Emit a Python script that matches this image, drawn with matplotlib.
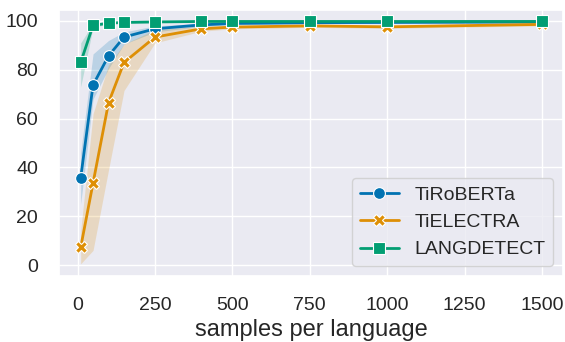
import numpy as np
import matplotlib.pyplot as plt
import seaborn as sns

sns.set_theme(style='darkgrid', palette='colorblind')
plt.rcParams['font.family'] = ['Liberation Sans', 'DejaVu Sans']

samples = [10, 50, 100, 150, 250, 400, 500, 750, 1000, 1500]

roberta = [35.7, 73.8, 85.7, 93.4, 96.8, 98.4, 99.0, 99.3, 99.4, 99.6]
roberta_lo = [25.0, 68.0, 80.5, 90.5, 95.5, 97.8, 98.5, 98.9, 99.1, 99.3]
roberta_hi = [46.0, 86.5, 92.0, 95.5, 98.0, 99.0, 99.4, 99.6, 99.7, 99.8]

electra = [7.2, 33.6, 66.5, 83.0, 93.4, 96.8, 97.5, 98.0, 97.6, 98.6]
electra_lo = [0.5, 6.0, 39.0, 71.5, 91.0, 95.8, 96.8, 97.4, 97.0, 98.0]
electra_hi = [14.0, 62.0, 82.0, 90.5, 96.5, 97.8, 98.2, 98.6, 98.3, 99.1]

langdetect = [83.0, 98.2, 99.1, 99.4, 99.6, 99.8, 99.8, 99.8, 99.8, 99.8]
langdetect_lo = [73.0, 97.4, 98.7, 99.1, 99.4, 99.6, 99.7, 99.7, 99.7, 99.7]
langdetect_hi = [91.0, 99.0, 99.5, 99.7, 99.8, 99.9, 99.9, 99.9, 99.9, 99.9]

names = ['TiRoBERTa', 'TiELECTRA', 'LANGDETECT']
pal = sns.color_palette('colorblind')
colors = [pal[0], pal[1], pal[2]]
markers = ['o', 'X', 's']

fig, ax = plt.subplots(figsize=(5.65, 3.42), dpi=100)

series = [(roberta, roberta_lo, roberta_hi),
          (electra, electra_lo, electra_hi),
          (langdetect, langdetect_lo, langdetect_hi)]

for (y, lo, hi), name, c, m in zip(series, names, colors, markers):
    ax.fill_between(samples, lo, hi, color=c, alpha=0.2, linewidth=0)
    ax.plot(samples, y, color=c, marker=m, markersize=8.5, markeredgecolor='white',
            markeredgewidth=0.8, linewidth=2, label=name)

ax.set_xticks(np.arange(0, 1501, 250))
ax.set_yticks(np.arange(0, 101, 20))
ax.set_xlim(-60, 1568)
ax.set_ylim(-4.5, 104.5)
ax.tick_params(labelsize=14, pad=9)
ax.set_xlabel('samples per language', fontsize=17, labelpad=4)
ax.legend(loc='lower right', fontsize=14)

fig.subplots_adjust(left=59/565, right=563/565, top=1 - 10/342, bottom=1 - 276/342)
fig.savefig('out.png')
